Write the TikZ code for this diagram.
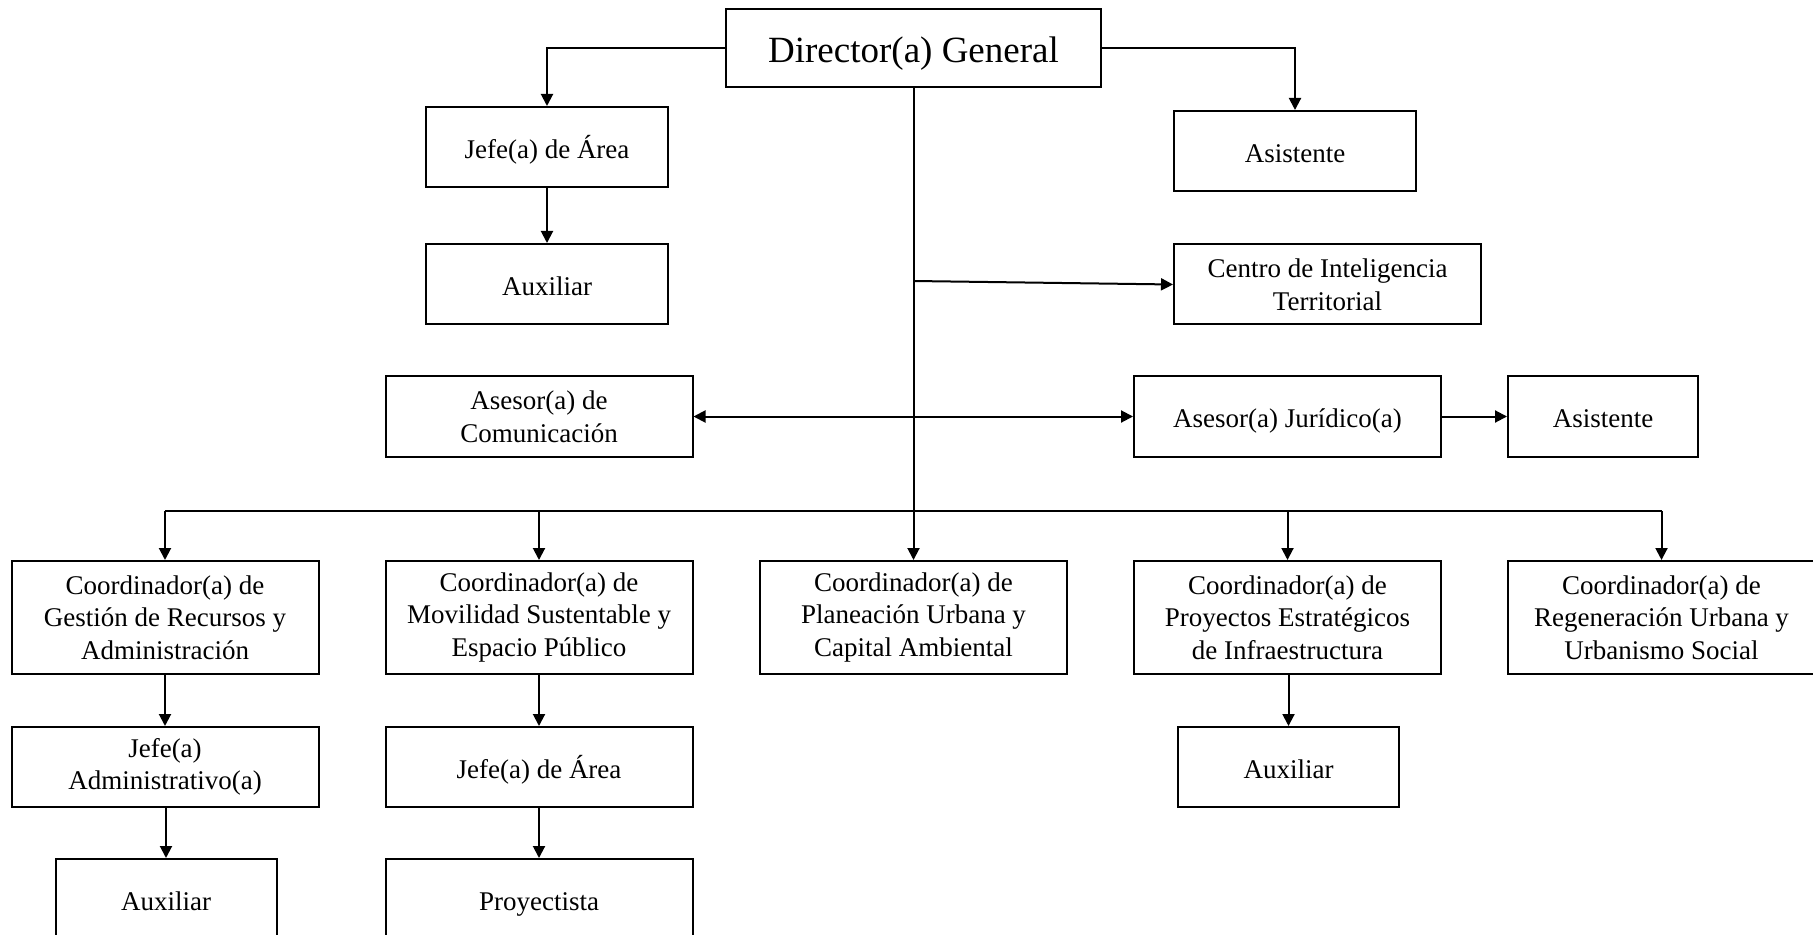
\documentclass[tikz,border=0pt]{standalone}
\usepackage{fontspec}
\setmainfont{Liberation Serif}
\usetikzlibrary{arrows.meta}
\begin{document}
\begin{tikzpicture}[x=0.5pt,y=-0.5pt,
  box/.style={draw, line width=1pt, align=center, inner sep=0pt,
    font=\fontsize{13.5}{16.3}\selectfont},
  sl/.style={text height=12pt, text depth=0.6pt},
  wide/.style={minimum width=153.5pt},
  mid/.style={minimum width=121pt},
  small/.style={minimum width=110.5pt},
  oneline/.style={minimum height=40pt},
  threeline/.style={minimum height=56.5pt},
  conn/.style={line width=1pt, -{Triangle[length=6pt,width=6pt]}},
  ln/.style={line width=1pt}]
\useasboundingbox (0,0) rectangle (1813,935);

% top level
\node[box, minimum width=187.5pt, minimum height=39pt, text height=15.5pt, text depth=0.9pt, font=\fontsize{18.5}{22}\selectfont] (dir) at (913.5,48) {Director(a) General};
\node[box, mid, oneline, sl] (jefeA) at (547,147) {Jefe(a) de Área};
\node[box, mid, oneline, sl] (auxA) at (547,284) {Auxiliar};
\node[box, mid, oneline, sl] (asis1) at (1295,151) {Asistente};
\node[box, wide, oneline] (cit) at (1327.5,284.5) {Centro de Inteligencia\\Territorial};
\node[box, wide, minimum height=40.5pt] (asCom) at (539,416.5) {Asesor(a) de\\Comunicación};
\node[box, wide, minimum height=40.5pt, sl] (asJur) at (1287.5,416.5) {Asesor(a) Jurídico(a)};
\node[box, minimum width=95pt, minimum height=40.5pt, sl] (asis2) at (1603,416.5) {Asistente};

% coordinators
\node[box, wide, threeline] (c1) at (165,617.5) {Coordinador(a) de\\Gestión de Recursos y\\Administración};
\node[box, wide, threeline] (c2) at (539,617.5) {Coordinador(a) de\\Movilidad Sustentable y\\Espacio Público};
\node[box, wide, threeline] (c3) at (913.5,617.5) {Coordinador(a) de\\Planeación Urbana y\\Capital Ambiental};
\node[box, wide, threeline] (c4) at (1287.5,617.5) {Coordinador(a) de\\Proyectos Estratégicos\\de Infraestructura};
\node[box, wide, threeline] (c5) at (1661.5,617.5) {Coordinador(a) de\\Regeneración Urbana y\\Urbanismo Social};

% second level
\node[box, wide, oneline] (ja) at (165,767) {Jefe(a)\\Administrativo(a)};
\node[box, wide, oneline, sl] (jarea) at (539,767) {Jefe(a) de Área};
\node[box, small, oneline, sl] (aux4) at (1288.5,767) {Auxiliar};

% third level
\node[box, small, oneline, sl] (aux1) at (166,899) {Auxiliar};
\node[box, wide, oneline, sl] (proy) at (539,899) {Proyectista};

% connectors
\draw[conn] (dir.west) -| (jefeA.north);
\draw[conn] (dir.east) -| (asis1.north);
\draw[conn] (jefeA) -- (auxA);
\draw[conn] (dir.south) -- (c3.north);
\coordinate (citsrc) at (913.5,281);
\draw[conn] (citsrc) -- (cit.west);
\draw[line width=1pt, {Triangle[length=6pt,width=6pt]}-{Triangle[length=6pt,width=6pt]}] (asCom.east) -- (asJur.west);
\draw[conn] (asJur) -- (asis2);

\coordinate (busL) at (165,511);
\coordinate (busR) at (1661.5,511);
\draw[ln] (busL) -- (busR);
\draw[conn] (busL) -- (c1.north);
\draw[conn] (c2.north |- busL) -- (c2.north);
\draw[conn] (c4.north |- busL) -- (c4.north);
\draw[conn] (busR) -- (c5.north);

\draw[conn] (c1) -- (ja);
\draw[conn] (ja.south -| aux1.north) -- (aux1);
\draw[conn] (c2) -- (jarea);
\draw[conn] (jarea) -- (proy);
\draw[conn] (c4.south -| aux4.north) -- (aux4);
\end{tikzpicture}
\end{document}
